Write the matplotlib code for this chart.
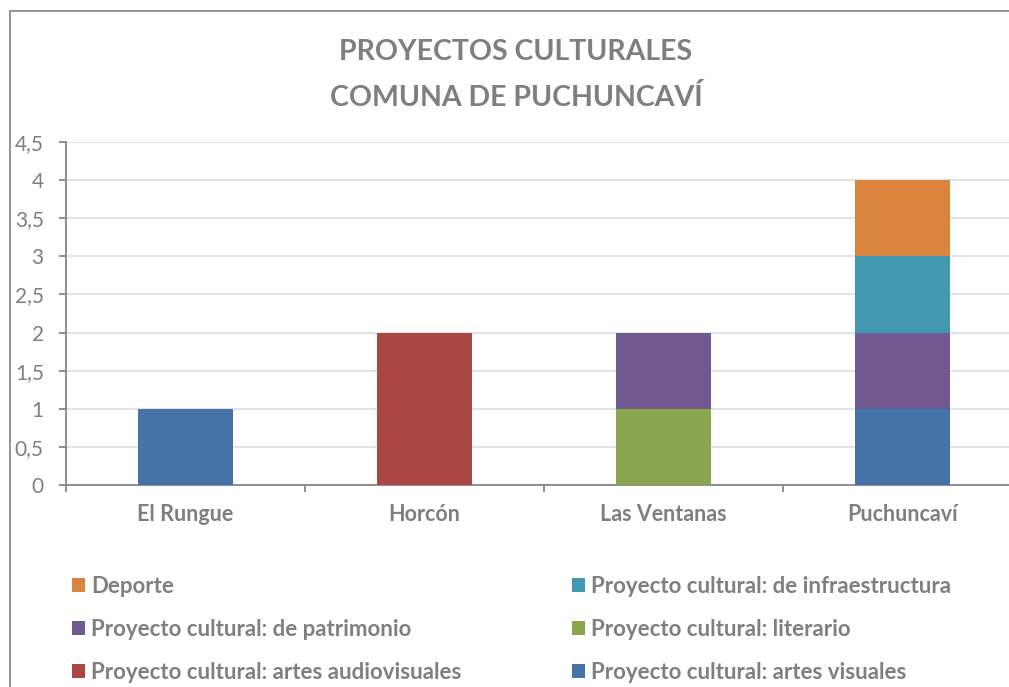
import matplotlib
matplotlib.use('Agg')
import matplotlib.pyplot as plt
from matplotlib.patches import Rectangle
from matplotlib.ticker import FixedLocator, FuncFormatter
import numpy as np

plt.rcParams['font.family'] = ['Lato', 'DejaVu Sans']

comunas = ['El Rungue', 'Horcón', 'Las Ventanas', 'Puchuncaví']
artes_visuales = [1, 0, 0, 1]
artes_audiovisuales = [0, 2, 0, 0]
literario = [0, 0, 1, 0]
patrimonio = [0, 0, 1, 1]
infraestructura = [0, 0, 0, 1]
deporte = [0, 0, 0, 1]

series = [
    ('Proyecto cultural: artes visuales', artes_visuales, '#4572A7'),
    ('Proyecto cultural: artes audiovisuales', artes_audiovisuales, '#AA4643'),
    ('Proyecto cultural: literario', literario, '#89A54E'),
    ('Proyecto cultural: de patrimonio', patrimonio, '#71588F'),
    ('Proyecto cultural: de infraestructura', infraestructura, '#4198AF'),
    ('Deporte', deporte, '#DB843D'),
]

W, H = 1009, 687
fig = plt.figure(figsize=(W / 100, H / 100), dpi=100, facecolor='white')

# outer chart frame (runs off the right and bottom edges)
fig.patches.append(Rectangle((10 / W, -0.1), 1.2, (H - 10) / H + 0.1 - 0.0015,
                             transform=fig.transFigure, fill=False,
                             edgecolor='#8c8c8c', lw=1.3))

x0, x1 = 66, 1022
y0, y1 = 485, 142
ax = fig.add_axes([x0 / W, (H - y0) / H, (x1 - x0) / W, (y0 - y1) / H])
ax.set_facecolor('none')

x = np.arange(len(comunas))
bottom = np.zeros(len(comunas))
handles = {}
for name, vals, col in series:
    vals = np.array(vals, dtype=float)
    b = ax.bar(x, vals, width=0.4, bottom=bottom, color=col, label=name,
               edgecolor='none', zorder=3)
    handles[name] = b
    bottom += vals

ax.set_xlim(-0.5, 3.5)
ax.set_ylim(0, 4.5)
ax.set_yticks(np.arange(0, 4.51, 0.5))
ax.yaxis.set_major_formatter(FuncFormatter(
    lambda v, p: ('%g' % v).replace('.', ',')))
ax.grid(axis='y', color='#d9dee8', lw=1.2, zorder=0)
ax.set_axisbelow(True)

for s in ['top', 'right']:
    ax.spines[s].set_visible(False)
for s in ['left', 'bottom']:
    ax.spines[s].set_color('#868686')
    ax.spines[s].set_linewidth(1.3)

ax.tick_params(axis='y', length=5, width=1.3, color='#868686', pad=11,
               labelsize=15, labelcolor='#7f7f7f')
ax.set_xticks(x)
ax.set_xticklabels(comunas, fontsize=15.5, fontweight='bold', color='#7f7f7f')
ax.tick_params(axis='x', which='major', length=0, pad=14)
ax.xaxis.set_minor_locator(FixedLocator([-0.5, 0.5, 1.5, 2.5]))
ax.tick_params(axis='x', which='minor', length=5, width=1.3, color='#868686')

fig.text(516 / W, 1 - 52 / H, 'PROYECTOS CULTURALES', ha='center', va='center',
         fontsize=20.5, fontweight='bold', color='#7f7f7f')
fig.text(516 / W, 1 - 98 / H, 'COMUNA DE PUCHUNCAVÍ', ha='center', va='center',
         fontsize=20.5, fontweight='bold', color='#7f7f7f')

order = ['Deporte', 'Proyecto cultural: de patrimonio',
         'Proyecto cultural: artes audiovisuales',
         'Proyecto cultural: de infraestructura',
         'Proyecto cultural: literario',
         'Proyecto cultural: artes visuales']
leg = fig.legend([handles[n] for n in order], order, ncol=2,
                 loc='upper left', bbox_to_anchor=(52 / W, 1 - 556 / H),
                 frameon=False, handlelength=0.6, handleheight=0.6,
                 handletextpad=0.27, columnspacing=4.95, labelspacing=0.98,
                 prop={'size': 16, 'weight': 'bold'})
for t in leg.get_texts():
    t.set_color('#7f7f7f')

fig.savefig('out.png', dpi=100, facecolor='white')
